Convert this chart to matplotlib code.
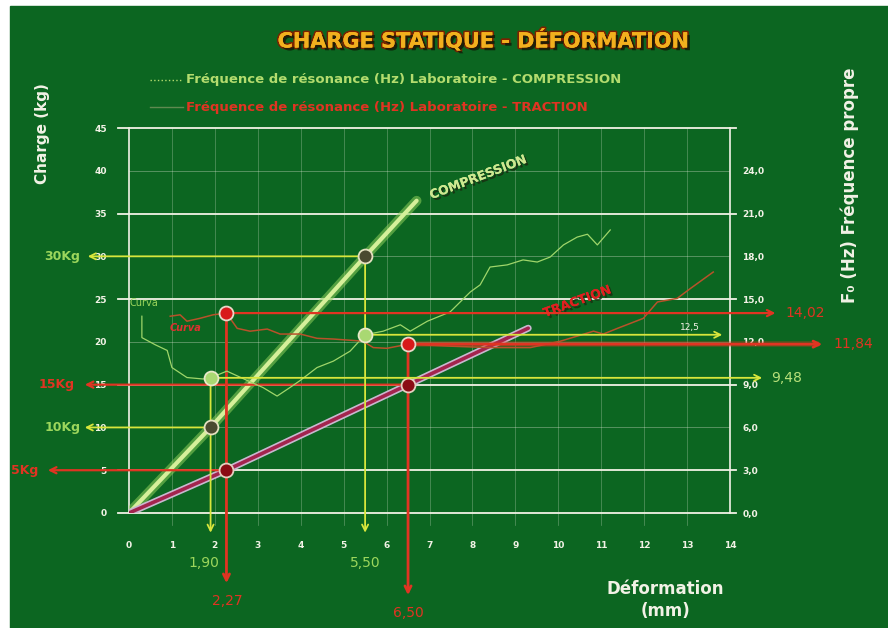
import matplotlib
matplotlib.use("Agg")
import matplotlib.pyplot as plt
import matplotlib.patheffects as pe
from matplotlib.patches import Rectangle
from matplotlib.lines import Line2D

# charge statique (kg) en fonction de la deformation (mm)
comp_x = [0, 1.9, 5.5, 6.7]
comp_kg = [0, 10, 30, 36.5]
trac_x = [0, 2.27, 6.5, 9.3]
trac_kg = [0, 5, 15, 21.6]

# frequence de resonance laboratoire (Hz)
comp_freq_x = [0.30, 0.30, 0.61, 0.89, 1.0, 1.35, 1.72, 1.9, 2.28, 2.75, 3.12, 3.45, 3.75,
               3.99, 4.38, 4.76, 5.15, 5.5, 5.92, 6.32, 6.55, 6.95, 7.48, 7.95, 8.18, 8.41,
               8.81, 9.18, 9.51, 9.81, 10.12, 10.44, 10.68, 10.91, 11.21]
comp_freq_hz = [13.8, 12.3, 11.8, 11.4, 10.2, 9.5, 9.4, 9.48, 9.95, 9.3, 8.8, 8.2, 8.8,
                9.3, 10.2, 10.65, 11.35, 12.5, 12.75, 13.2, 12.75, 13.45, 14.1, 15.5, 16.0, 17.25,
                17.4, 17.75, 17.6, 17.95, 18.8, 19.35, 19.55, 18.8, 19.85]
trac_freq_x = [0.96, 1.19, 1.35, 1.65, 1.96, 2.27, 2.52, 2.82, 3.22, 3.52, 3.99, 4.38, 4.76,
               5.45, 5.69, 6.01, 6.5, 7.48, 8.4, 9.35, 10.05, 10.82, 11.05, 11.38, 11.98,
               12.31, 12.77, 13.08, 13.61]
trac_freq_hz = [13.8, 13.9, 13.45, 13.65, 13.9, 14.02, 12.95, 12.75, 12.9, 12.55, 12.55, 12.25, 12.2,
                12.05, 11.6, 11.55, 11.84, 11.7, 11.6, 11.6, 12.05, 12.75, 12.55, 12.95, 13.65,
                14.8, 15.05, 15.75, 16.9]

# points remarquables
comp_pts_x = [1.90, 5.50]
comp_pts_kg = [10, 30]
comp_pts_hz = [9.48, 12.5]
trac_pts_x = [2.27, 6.50]
trac_pts_kg = [5, 15]
trac_pts_hz = [14.02, 11.84]

x_ticks = list(range(0, 15))
kg_ticks = list(range(0, 50, 5))
hz_ticks = [0, 3, 6, 9, 12, 15, 18, 21, 24]

bg = "#0c6621"
white = "#f2f2e6"
lgreen = "#b3dc6e"
yellow = "#d8e63c"
red = "#e03422"

fig = plt.figure(figsize=(8.88, 6.28), dpi=100, facecolor="white")
fig.patches.append(Rectangle((10 / 888, 0), 1, 1 - 6 / 628, transform=fig.transFigure,
                             color=bg, zorder=-10))

ax = fig.add_axes([129 / 888, 1 - 513 / 628, 601 / 888, 385 / 628])
ax.set_facecolor("none")
ax.set_xlim(0, 14)
ax.set_ylim(0, 45)
for s in ["top", "bottom"]:
    ax.spines[s].set_visible(False)
for s in ["left", "right"]:
    ax.spines[s].set_color(white)
    ax.spines[s].set_linewidth(1.2)

# grille
for k in [0, 5, 15, 25, 35, 45]:
    ax.plot([-0.25, 14.15], [k, k], color=white, lw=1.3, clip_on=False, zorder=1)
for k in [10, 20, 30, 40]:
    ax.plot([0, 14], [k, k], color=white, lw=0.5, alpha=0.45, zorder=1)
for d in range(1, 14):
    ax.plot([d, d], [-1.4, 45], color=white, lw=0.5, alpha=0.35, clip_on=False, zorder=1)

ax.set_xticks(x_ticks)
ax.set_yticks(kg_ticks)
ax.tick_params(axis="x", length=0, pad=20, labelsize=6.5, labelcolor=white)
ax.tick_params(axis="y", length=0, pad=16, labelsize=6.5, labelcolor=white)
for t in ax.get_xticklabels() + ax.get_yticklabels():
    t.set_fontweight("bold")

ax2 = ax.twinx()
ax2.set_ylim(0, 27)
ax2.set_yticks(hz_ticks)
ax2.set_yticklabels([f"{v:.1f}".replace(".", ",") for v in hz_ticks])
ax2.tick_params(axis="y", length=0, pad=9, labelsize=6.5, labelcolor=white)
for t in ax2.get_yticklabels():
    t.set_fontweight("bold")
for s in ax2.spines.values():
    s.set_visible(False)


def arrow(a, start, end, color, lw=1.3):
    a.annotate("", xy=end, xytext=start, annotation_clip=False,
               arrowprops=dict(arrowstyle="->", color=color, lw=lw,
                               shrinkA=0, shrinkB=0, mutation_scale=11))


# droites de charge
ax.plot(comp_x, comp_kg, color="#8fcf5a", lw=7, alpha=0.55, solid_capstyle="round", zorder=3)
ax.plot(comp_x, comp_kg, color="#d6f09a", lw=3, solid_capstyle="round", zorder=3)
ax.plot(trac_x, trac_kg, color="#c9b8d0", lw=5, solid_capstyle="round", zorder=3)
ax.plot(trac_x, trac_kg, color="#a3244e", lw=2.6, solid_capstyle="round", zorder=3)

# courbes de frequence
ax2.plot(comp_freq_x, comp_freq_hz, color="#9fd66a", lw=0.9, zorder=3)
ax2.plot(trac_freq_x, trac_freq_hz, color="#b8522a", lw=1.1, zorder=3)

# lignes de lecture - charges
arrow(ax, (comp_pts_x[1], comp_pts_kg[1]), (-0.96, comp_pts_kg[1]), yellow)
arrow(ax, (comp_pts_x[0], comp_pts_kg[0]), (-1.03, comp_pts_kg[0]), yellow)
arrow(ax, (trac_pts_x[1], trac_pts_kg[1]), (-1.03, trac_pts_kg[1]), red, lw=1.6)
arrow(ax, (trac_pts_x[0], trac_pts_kg[0]), (-1.89, trac_pts_kg[0]), red, lw=1.6)
ax.text(-1.55, comp_pts_kg[1], "30Kg", color="#9cd65c", fontsize=9, fontweight="bold",
        ha="center", va="center")
ax.text(-1.55, comp_pts_kg[0], "10Kg", color="#9cd65c", fontsize=9, fontweight="bold",
        ha="center", va="center")
ax.text(-1.68, trac_pts_kg[1], "15Kg", color=red, fontsize=9, fontweight="bold",
        ha="center", va="center")
ax.text(-2.43, trac_pts_kg[0], "5Kg", color=red, fontsize=9, fontweight="bold",
        ha="center", va="center")

# lignes de lecture - deformations
f = 45 / 27
arrow(ax, (comp_pts_x[0], comp_pts_hz[0] * f), (comp_pts_x[0], -2.3), yellow)
arrow(ax, (comp_pts_x[1], comp_pts_kg[1]), (comp_pts_x[1], -2.3), yellow)
arrow(ax, (trac_pts_x[0], trac_pts_hz[0] * f), (trac_pts_x[0], -8.2), red, lw=2)
arrow(ax, (trac_pts_x[1], trac_pts_hz[1] * f), (trac_pts_x[1], -9.6), red, lw=2)
ax.text(1.75, -5.8, "1,90", color="#9cd65c", fontsize=10, ha="center", va="center")
ax.text(5.5, -5.8, "5,50", color="#9cd65c", fontsize=10, ha="center", va="center")
ax.text(2.3, -10.3, "2,27", color=red, fontsize=10, ha="center", va="center")
ax.text(6.5, -11.7, "6,50", color=red, fontsize=10, ha="center", va="center")

# lignes de lecture - frequences
arrow(ax2, (trac_pts_x[0], trac_pts_hz[0]), (15.06, trac_pts_hz[0]), red, lw=1.6)
ax2.plot([trac_pts_x[1], 16.0], [trac_pts_hz[1]] * 2, color=red, lw=4, alpha=0.35,
         clip_on=False, zorder=2)
arrow(ax2, (trac_pts_x[1], trac_pts_hz[1]), (16.15, trac_pts_hz[1]), red, lw=2)
arrow(ax2, (comp_pts_x[0], comp_pts_hz[0]), (14.75, comp_pts_hz[0]), yellow)
arrow(ax2, (comp_pts_x[1], comp_pts_hz[1]), (13.82, comp_pts_hz[1]), yellow)
ax2.text(15.3, trac_pts_hz[0], "14,02", color=red, fontsize=10, va="center", clip_on=False)
ax2.text(16.4, trac_pts_hz[1], "11,84", color=red, fontsize=10, va="center", clip_on=False)
ax2.text(14.95, comp_pts_hz[0], "9,48", color="#b8e07a", fontsize=10, va="center", clip_on=False)
ax2.text(13.07, comp_pts_hz[1] + 0.2, "12,5", color=white, fontsize=6.5, ha="center",
         va="bottom")

# marqueurs
ax.plot(comp_pts_x, comp_pts_kg, "o", ms=10, mfc="#4a4a30", mec="#e4e0c0", mew=1.3, zorder=6)
ax.plot(trac_pts_x, trac_pts_kg, "o", ms=10, mfc="#8a0c14", mec="#e4d0c0", mew=1.3, zorder=6)
ax2.plot(comp_pts_x, comp_pts_hz, "o", ms=10, mfc="#a9d872", mec="#e8e8c8", mew=1.3, zorder=6)
ax2.plot(trac_pts_x, trac_pts_hz, "o", ms=10, mfc="#d81a1a", mec="#e8d8c8", mew=1.3, zorder=6)

# textes dans le graphique
shadow = [pe.withSimplePatchShadow(offset=(1.5, -1.5), shadow_rgbFace="#1a2a10", alpha=0.8),
          pe.Normal()]
ax.text(8.13, 39.2, "COMPRESSION", color="#cde890", fontsize=9, fontweight="bold",
        rotation=21, ha="center", va="center", path_effects=shadow, zorder=7)
ax.text(10.44, 24.7, "TRACTION", color="#e02020", fontsize=9, fontweight="bold",
        rotation=20, ha="center", va="center", path_effects=shadow, zorder=7)
ax.text(0.02, 24.5, "Curva", color="#9cd65c", fontsize=7, va="center", zorder=7)
ax.text(0.95, 21.6, "Curva", color="#e03030", fontsize=7, style="italic", fontweight="bold",
        va="center", zorder=7)

# titre et legende
fig.text(483 / 888, 1 - 40 / 628, "CHARGE STATIQUE - DÉFORMATION", color="#f2b01e",
         fontsize=15, fontweight="bold", ha="center", va="center",
         path_effects=[pe.withStroke(linewidth=2.5, foreground="#7a2200"),
                       pe.withSimplePatchShadow(offset=(2, -2), shadow_rgbFace="#101a08",
                                                alpha=0.8),
                       pe.Normal()])
fig.lines.append(Line2D([150 / 888, 183 / 888], [1 - 80 / 628] * 2, transform=fig.transFigure,
                        color=lgreen, lw=1, ls=":"))
fig.lines.append(Line2D([150 / 888, 183 / 888], [1 - 107 / 628] * 2, transform=fig.transFigure,
                        color="#5f8a50", lw=1))
fig.text(186 / 888, 1 - 80 / 628, "Fréquence de résonance (Hz) Laboratoire - COMPRESSION",
         color=lgreen, fontsize=9.5, fontweight="bold", va="center")
fig.text(186 / 888, 1 - 107 / 628, "Fréquence de résonance (Hz) Laboratoire - TRACTION",
         color=red, fontsize=9.5, fontweight="bold", va="center")

# titres des axes
fig.text(42 / 888, 1 - 134 / 628, "Charge (kg)", color=white, fontsize=11, fontweight="bold",
         rotation=90, ha="center", va="center")
fig.text(850 / 888, 1 - 185 / 628, "F₀ (Hz) Fréquence propre", color=white, fontsize=12,
         fontweight="bold", rotation=90, ha="center", va="center")
fig.text(665 / 888, 1 - 600 / 628, "Déformation\n(mm)", color=white, fontsize=12,
         fontweight="bold", ha="center", va="center", linespacing=1.3)

fig.savefig("out.png", dpi=100, facecolor=fig.get_facecolor())
